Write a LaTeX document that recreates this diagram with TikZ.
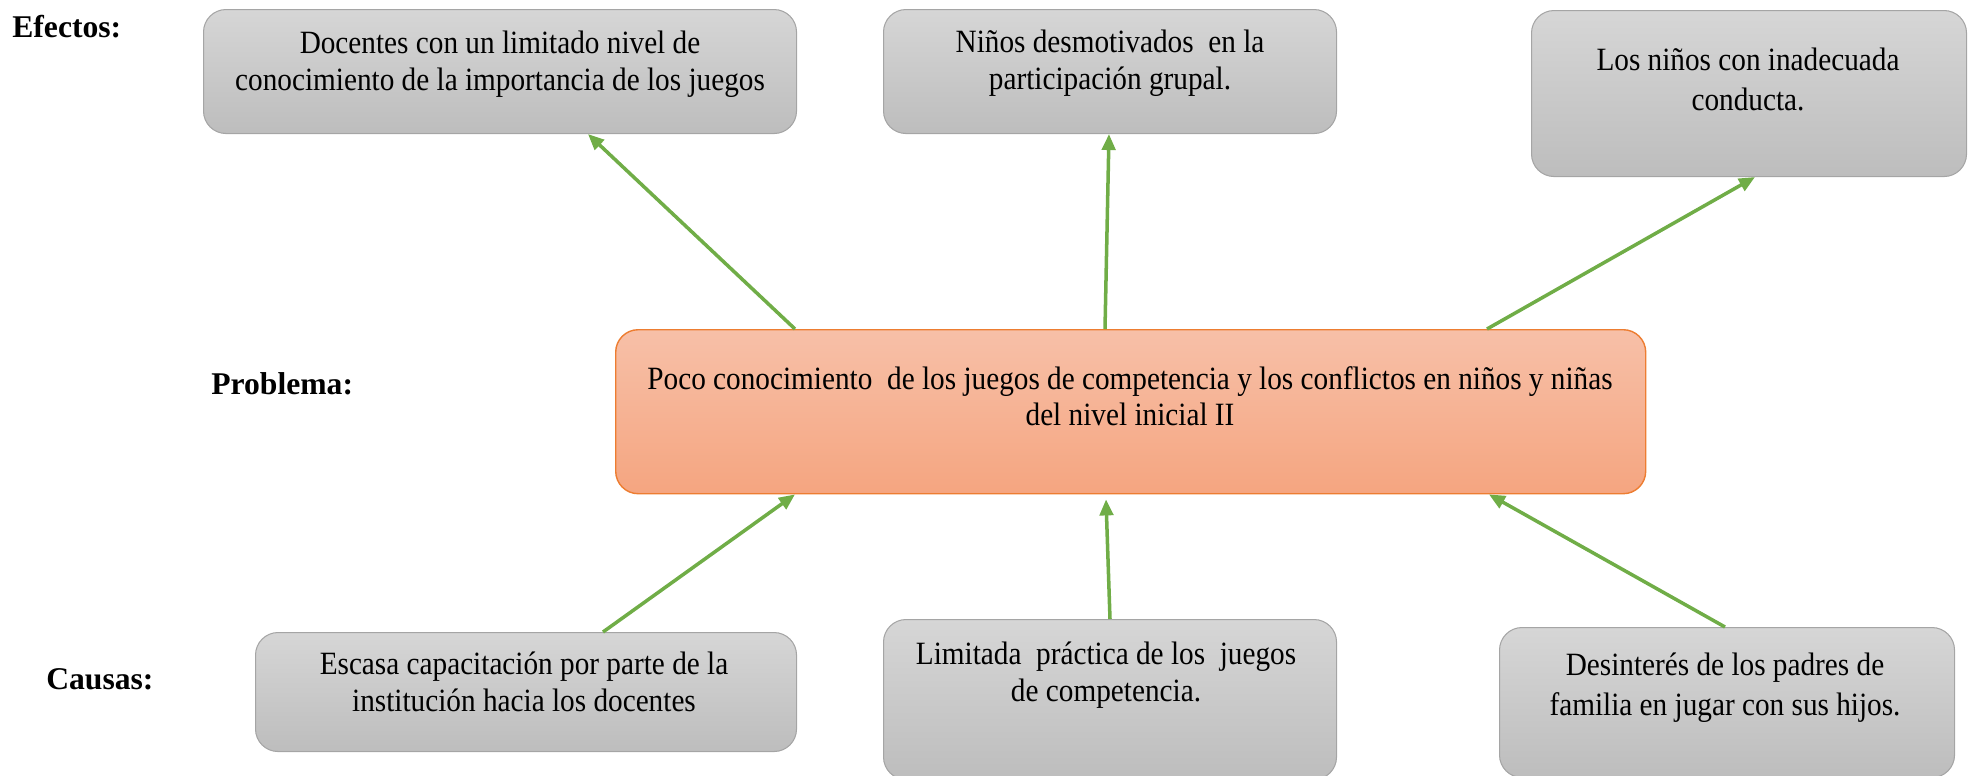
\documentclass[tikz,border=0pt]{standalone}
\usepackage{fontspec}
\setmainfont{Liberation Serif}[FakeStretch=0.9]
\newfontfamily\lblfont{Liberation Serif}
\usetikzlibrary{calc,arrows.meta,shadings}
\definecolor{boxtop}{HTML}{D6D6D6}
\definecolor{boxbot}{HTML}{BDBDBD}
\definecolor{boxline}{HTML}{A5A5A5}
\definecolor{protop}{HTML}{F7C0A8}
\definecolor{probot}{HTML}{F5A580}
\definecolor{proline}{HTML}{ED7D31}
\definecolor{arrgreen}{HTML}{70AD47}
\tikzset{
  graybox/.style={draw=boxline, line width=0.6pt, rounded corners=0.45cm, top color=boxtop, bottom color=boxbot, anchor=north west, inner sep=0pt},
  probox/.style={draw=proline, line width=0.8pt, rounded corners=0.45cm, top color=protop, bottom color=probot, anchor=north west, inner sep=0pt},
  txt/.style={align=center, font=\fontsize{18.5}{20.8}\selectfont, inner sep=0pt},
  txtw/.style={txt, font=\fontsize{18.5}{22.8}\selectfont},
  lbl/.style={font=\lblfont\fontsize{18}{20.8}\selectfont\bfseries, inner sep=0pt, anchor=west},
  arr/.style={draw=arrgreen, line width=2pt, -{Triangle[length=0.32cm,width=0.27cm]}},
}
\begin{document}
\begin{tikzpicture}[x=0.02cm,y=-0.02cm]
\useasboundingbox (0,0) rectangle (1969,775);
% boxes
\node[graybox, minimum width=593*0.02cm, minimum height=124*0.02cm] (e1) at (203,9) {};
\node[graybox, minimum width=453*0.02cm, minimum height=124*0.02cm] (e2) at (883,9) {};
\node[graybox, minimum width=435*0.02cm, minimum height=166*0.02cm] (e3) at (1531,10) {};
\node[probox, minimum width=1030*0.02cm, minimum height=164*0.02cm] (p) at (615,329) {};
\node[graybox, minimum width=541*0.02cm, minimum height=119*0.02cm] (c1) at (255,632) {};
\node[graybox, minimum width=453*0.02cm, minimum height=160*0.02cm] (c2) at (883,619) {};
\node[graybox, minimum width=455*0.02cm, minimum height=150*0.02cm] (c3) at (1499,627) {};
% texts
\node[txt] (e1t) at (500,64) {Docentes con un limitado nivel de\\conocimiento de la importancia de los juegos};
\node[txt] (e2t) at (1110,63) {Niños desmotivados\ \ en la\\participación grupal.};
\node[txtw] (e3t) at (1748,79) {Los niños con inadecuada\\conducta.};
\node[txt] (pt) at (1130,396) {Poco conocimiento\ \ de los juegos de competencia y los conflictos en niños y niñas\\del nivel inicial II};
\node[txt] (c1t) at (524,682) {Escasa capacitación por parte de la\\institución hacia los docentes};
\node[txt] (c2t) at (1106,675) {Limitada\ \ práctica de los\ \ juegos\\de competencia.};
\node[txtw] (c3t) at (1725,688) {Desinterés de los padres de\\familia en jugar con sus hijos.};
% labels
\node[lbl] (lef) at (12,27) {Efectos:};
\node[lbl] (lpr) at (211,384) {Problema:};
\node[lbl] (lca) at (46,679) {Causas:};
% arrows
\draw[arr] ($(p.north west)+(180,0)$) -- ($(e1.south west)+(385,0)$);
\draw[arr] ($(p.north west)+(490,0)$) -- ($(e2.south west)+(226,0)$);
\draw[arr] ($(p.north west)+(872,0)$) -- ($(e3.south west)+(224,0)$);
\draw[arr] ($(c1.north west)+(348,0)$) -- ($(p.south west)+(180,0)$);
\draw[arr] ($(c2.north west)+(227,0)$) -- ($(p.south west)+(491,5)$);
\draw[arr] ($(c3.north west)+(226,0)$) -- ($(p.south west)+(874,0)$);
\end{tikzpicture}
\end{document}
